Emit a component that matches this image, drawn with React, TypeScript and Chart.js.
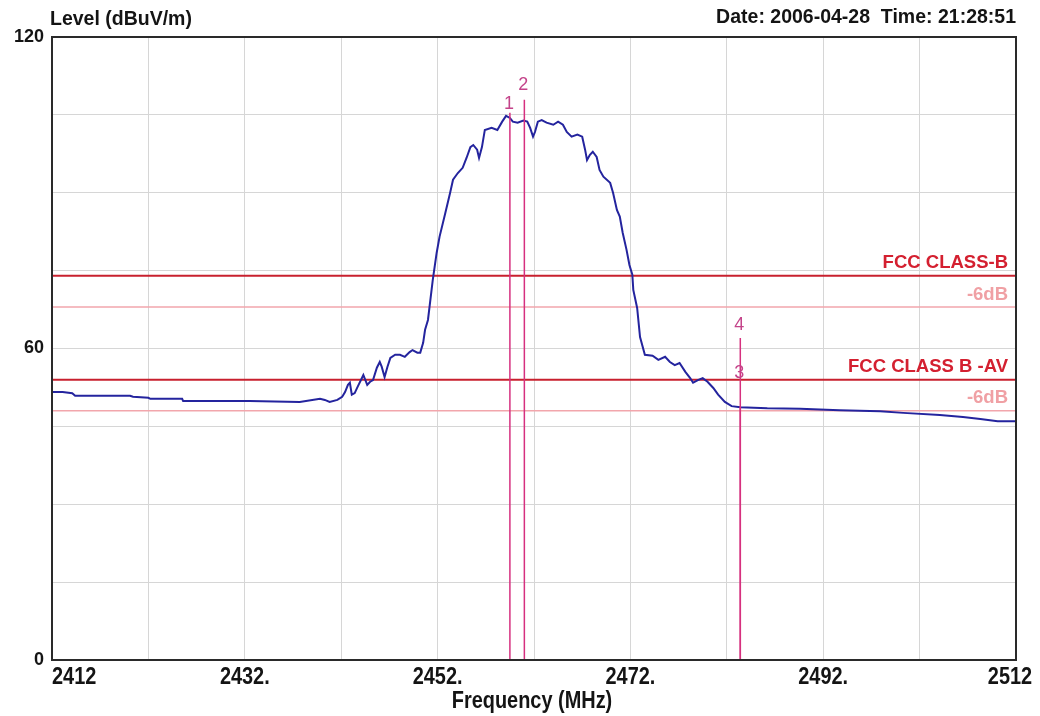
import React, { useEffect, useRef } from "react";
import { Chart, registerables } from "chart.js";

Chart.register(...registerables);

// ---- data ----
const FREQ = [
  2412.0, 2413.1, 2414.1, 2414.4, 2420.1, 2420.4, 2422.0, 2422.2, 2425.5, 2425.6,
  2432.5, 2437.7, 2439.8, 2440.3, 2440.8, 2441.6, 2442.1, 2442.4, 2442.7, 2442.9,
  2443.1, 2443.4, 2443.7, 2444.2, 2444.3, 2444.7, 2445.0, 2445.3, 2445.7, 2446.0,
  2446.2, 2446.5, 2446.8, 2447.1, 2447.6, 2448.1, 2448.6, 2449.1, 2449.4, 2449.9,
  2450.2, 2450.5, 2450.7, 2451.0, 2451.5, 2451.9, 2452.2, 2452.8, 2453.3, 2453.6,
  2454.1, 2454.6, 2455.0, 2455.4, 2455.7, 2456.1, 2456.3, 2456.6, 2456.9, 2457.6,
  2458.2, 2458.7, 2459.1, 2459.5, 2459.8, 2460.3, 2460.9, 2461.3, 2461.6, 2461.9,
  2462.1, 2462.4, 2462.8, 2463.3, 2464.0, 2464.5, 2465.0, 2465.4, 2465.9, 2466.5,
  2467.0, 2467.3, 2467.5, 2467.8, 2468.1, 2468.5, 2468.8, 2469.2, 2469.9, 2470.2,
  2470.6, 2470.9, 2471.2, 2471.6, 2471.9, 2472.2, 2472.3, 2472.7, 2473.0, 2473.5,
  2474.3, 2474.9, 2475.6, 2476.1, 2476.6, 2477.1, 2477.7, 2478.2, 2478.5, 2479.0,
  2479.5, 2480.0, 2480.6, 2481.1, 2481.8, 2482.5, 2483.4, 2486.2, 2489.6, 2493.7,
  2497.9, 2500.3, 2504.1, 2506.5, 2508.3, 2510.1, 2511.9,
];
const LEVEL = [
  51.6, 51.6, 51.4, 50.9, 50.9, 50.7, 50.5, 50.3, 50.3, 49.9,
  49.9, 49.7, 50.3, 50.1, 49.7, 50.1, 50.7, 51.6, 53.0, 53.4,
  51.1, 51.4, 52.6, 54.5, 54.9, 53.0, 53.6, 53.9, 56.3, 57.4,
  56.5, 54.5, 56.5, 58.2, 58.8, 58.8, 58.4, 59.3, 59.7, 59.2,
  59.2, 61.1, 63.6, 65.5, 73.2, 78.4, 81.5, 86.1, 90.0, 92.5,
  93.8, 94.8, 96.7, 98.8, 99.2, 98.3, 96.7, 98.8, 102.1, 102.5,
  102.1, 103.7, 104.8, 104.4, 103.7, 103.5, 103.9, 103.7, 102.5, 100.8,
  101.7, 103.7, 104.0, 103.5, 103.1, 103.7, 103.1, 101.7, 100.8, 101.2,
  100.8, 98.3, 96.3, 97.3, 97.9, 96.9, 94.4, 93.1, 91.9, 90.0,
  86.7, 85.4, 82.3, 79.0, 76.1, 74.2, 71.3, 67.8, 62.2, 58.8,
  58.6, 57.8, 58.4, 57.4, 56.8, 57.2, 55.5, 54.3, 53.4, 53.9,
  54.3, 53.6, 52.4, 51.1, 49.7, 48.9, 48.7, 48.5, 48.4, 48.1,
  47.9, 47.6, 47.2, 46.8, 46.4, 46.0, 46.0,
];

const LIMIT_LEVELS = [74, 68, 54, 48];
const LIMIT_LABELS = ["FCC CLASS-B", "-6dB", "FCC CLASS B -AV", "-6dB"];

const MARKER_LABELS = ["1", "2", "3", "4"];
const MARKER_FREQ = [2459.5, 2461.0, 2483.4, 2483.4];
const MARKER_TOP = [105.4, 107.9, 48.7, 62.0];
const MARKER_LABEL_LEVEL = [107.0, 110.8, 55.2, 64.5];

const X_MIN = 2412;
const X_MAX = 2512;
const Y_MIN = 0;
const Y_MAX = 120;
const X_TICKS = [2412, 2432, 2452, 2472, 2492, 2512];
const X_TICK_LABELS = ["2412", "2432.", "2452.", "2472.", "2492.", "2512"];
const Y_TICK_LABELS = [0, 60, 120];

const TITLE_LEFT = "Level (dBuV/m)";
const TITLE_RIGHT = "Date: 2006-04-28  Time: 21:28:51";
const X_TITLE = "Frequency (MHz)";

const FONT = "'Liberation Sans', Arial, sans-serif";

export default function App() {
  const ref = useRef<HTMLCanvasElement>(null);

  useEffect(() => {
    const canvas = ref.current;
    if (!canvas) return;

    const limitColors = ["#c8202e", "#f2a6ac", "#c8202e", "#f2a6ac"];
    const limitWidths = [2, 1.5, 2, 1.5];
    const limitTextColors = ["#d42030", "#f0a0a4", "#d42030", "#f0a0a4"];

    const datasets: any[] = [];
    datasets.push({
      label: "level",
      data: FREQ.map((f, i) => ({ x: f, y: LEVEL[i] })),
      borderColor: "#24249e",
      borderWidth: 2,
      pointRadius: 0,
      tension: 0,
      order: 1,
    });
    LIMIT_LEVELS.forEach((lv, i) => {
      datasets.push({
        label: LIMIT_LABELS[i],
        data: [
          { x: X_MIN, y: lv },
          { x: X_MAX, y: lv },
        ],
        borderColor: limitColors[i],
        borderWidth: limitWidths[i],
        pointRadius: 0,
        order: 2,
      });
    });
    MARKER_FREQ.forEach((f, i) => {
      datasets.push({
        label: "M" + MARKER_LABELS[i],
        data: [
          { x: f, y: Y_MIN },
          { x: f, y: MARKER_TOP[i] },
        ],
        borderColor: "#d6307f",
        borderWidth: 1.5,
        pointRadius: 0,
        order: 0,
      });
    });

    const textPlugin = {
      id: "texts",
      afterDatasetsDraw(chart: any) {
        const { ctx, chartArea, scales } = chart;
        const xs = scales.x;
        const ys = scales.y;
        ctx.save();
        // limit labels
        ctx.font = `bold 18.5px ${FONT}`;
        ctx.textAlign = "right";
        ctx.textBaseline = "middle";
        LIMIT_LEVELS.forEach((lv, i) => {
          ctx.fillStyle = limitTextColors[i];
          ctx.fillText(LIMIT_LABELS[i], chartArea.right - 8, ys.getPixelForValue(lv) - 12.5);
        });
        // marker labels
        ctx.font = `18px ${FONT}`;
        ctx.textAlign = "center";
        ctx.fillStyle = "#c4448a";
        MARKER_FREQ.forEach((f, i) => {
          ctx.fillText(MARKER_LABELS[i], xs.getPixelForValue(f) - 1, ys.getPixelForValue(MARKER_LABEL_LEVEL[i]));
        });
        ctx.restore();
      },
      afterDraw(chart: any) {
        const { ctx, chartArea, scales } = chart;
        const xs = scales.x;
        ctx.save();
        // frame
        ctx.strokeStyle = "#2a2a2a";
        ctx.lineWidth = 2;
        ctx.strokeRect(chartArea.left, chartArea.top, chartArea.right - chartArea.left, chartArea.bottom - chartArea.top);
        // titles
        ctx.fillStyle = "#141414";
        ctx.textBaseline = "middle";
        ctx.font = `bold 19.5px ${FONT}`;
        ctx.textAlign = "left";
        ctx.fillText(TITLE_LEFT, 50, 20);
        ctx.textAlign = "right";
        ctx.fillText(TITLE_RIGHT, chartArea.right, 18);
        // x tick labels (condensed)
        ctx.font = `bold 24px ${FONT}`;
        X_TICKS.forEach((t, i) => {
          const px = xs.getPixelForValue(t);
          ctx.save();
          let ax = px;
          if (i === 0) {
            ctx.textAlign = "left";
          } else {
            ctx.textAlign = "center";
            if (i === X_TICKS.length - 1) ax = px - 6;
          }
          ctx.translate(ax, 677);
          ctx.scale(0.83, 1);
          ctx.fillText(X_TICK_LABELS[i], 0, 0);
          ctx.restore();
        });
        // x title
        ctx.save();
        ctx.textAlign = "center";
        ctx.translate(532, 701);
        ctx.scale(0.83, 1);
        ctx.fillText(X_TITLE, 0, 0);
        ctx.restore();
        ctx.restore();
      },
    };

    const chart = new Chart(canvas, {
      type: "line",
      data: { datasets },
      options: {
        animation: false,
        responsive: false,
        layout: { padding: { top: 37, right: 24, left: 0, bottom: 0 } },
        plugins: {
          legend: { display: false },
          tooltip: { enabled: false },
        },
        scales: {
          x: {
            type: "linear",
            min: X_MIN,
            max: X_MAX,
            ticks: { stepSize: 10, display: false },
            grid: { color: "#d6d6d6", lineWidth: 1, drawTicks: false },
            border: { display: false },
            afterFit: (s: any) => {
              s.height = 56;
            },
          },
          y: {
            type: "linear",
            min: Y_MIN,
            max: Y_MAX,
            ticks: {
              stepSize: 15,
              padding: 8,
              color: "#141414",
              font: { family: FONT, size: 18, weight: "bold" },
              callback: (v: any) => (Y_TICK_LABELS.includes(Number(v)) ? String(v) : ""),
            },
            grid: { color: "#d6d6d6", lineWidth: 1, drawTicks: false },
            border: { display: false },
            afterFit: (s: any) => {
              s.width = 52;
            },
          },
        },
      },
      plugins: [textPlugin],
    } as any);

    return () => chart.destroy();
  }, []);

  return (
    <div style={{ position: "fixed", left: 0, top: 0, width: 1040, height: 716, background: "#fff" }}>
      <canvas ref={ref} width={1040} height={716} style={{ width: 1040, height: 716 }} />
    </div>
  );
}
